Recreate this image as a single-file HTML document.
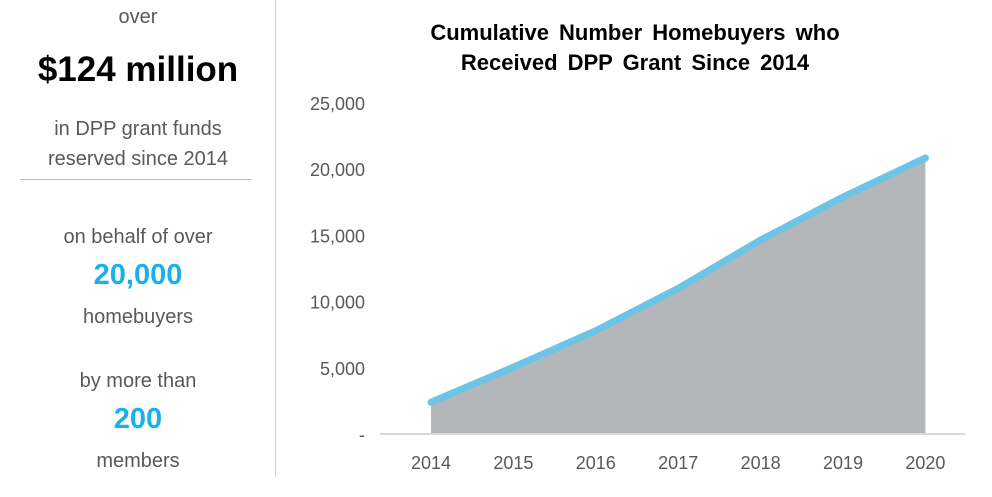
<!DOCTYPE html>
<html><head><meta charset="utf-8"><style>
body{margin:0;width:992px;height:497px;background:#fff;font-family:"Liberation Sans",sans-serif;overflow:hidden;position:relative}
.t{position:absolute;left:0;width:276px;text-align:center;color:#595959;font-size:20px}
</style></head><body>
<div>
<div class="t" style="top:6px">over</div>
<div class="t" style="top:50px;font-size:35px;font-weight:bold;color:#000">$124 million</div>
<div class="t" style="top:114px;line-height:30px">in DPP grant funds<br>reserved since 2014</div>
<div style="position:absolute;left:20px;top:179px;width:231px;height:1px;background:#bfbfbf"></div>
<div class="t" style="top:226px">on behalf of over</div>
<div class="t" style="top:259px;font-size:29px;font-weight:bold;color:#1ab0e8">20,000</div>
<div class="t" style="top:306px">homebuyers</div>
<div class="t" style="top:370px">by more than</div>
<div class="t" style="top:403px;font-size:29px;font-weight:bold;color:#1ab0e8">200</div>
<div class="t" style="top:450px">members</div>
</div>
<div style="position:absolute;left:275px;top:0;width:1px;height:478px;background:#d0d0d0"></div>
<svg id="chart" width="992" height="497" style="position:absolute;left:0;top:0">
<text x="635" y="40" text-anchor="middle" font-size="22" font-weight="bold" fill="#000" word-spacing="4">Cumulative Number Homebuyers who</text>
<text x="635" y="70" text-anchor="middle" font-size="22" font-weight="bold" fill="#000" word-spacing="4">Received DPP Grant Since 2014</text>
</svg>
<script>
const years=["2014","2015","2016","2017","2018","2019","2020"];
const homebuyers=[2400,5050,7800,11000,14650,17900,20850];
const yTicks=[0,5000,10000,15000,20000,25000];
const yTickLabels=["-","5,000","10,000","15,000","20,000","25,000"];
const svg=document.getElementById('chart');
const NS="http://www.w3.org/2000/svg";
const x=i=>431+i*82.4;
const y=v=>434-v*(66.2/5000);
function mk(t,a){const e=document.createElementNS(NS,t);for(const k in a)e.setAttribute(k,a[k]);svg.appendChild(e);return e;}
yTicks.forEach((v,i)=>{const e=mk('text',{x:365,y:y(v)+7,'text-anchor':'end','font-size':18,fill:'#595959'});e.textContent=yTickLabels[i];

});
let d='M'+x(0)+','+y(0);homebuyers.forEach((v,i)=>d+=' L'+x(i)+','+y(v));d+=' L'+x(homebuyers.length-1)+','+y(0)+' Z';
const area=mk('path',{d:d,fill:'#b3b7ba'});


const ax=mk('line',{x1:380,x2:965,y1:y(0),y2:y(0),stroke:'#d9d9d9','stroke-width':2});


const ln=mk('polyline',{points:homebuyers.map((v,i)=>x(i)+','+y(v)).join(' '),fill:'none',stroke:'#6cc4e6','stroke-width':7,'stroke-linecap':'round','stroke-linejoin':'round'});


years.forEach((yr,i)=>{const e=mk('text',{x:x(i),y:469,'text-anchor':'middle','font-size':18,fill:'#595959'});e.textContent=yr;

});
</script>
</body></html>
